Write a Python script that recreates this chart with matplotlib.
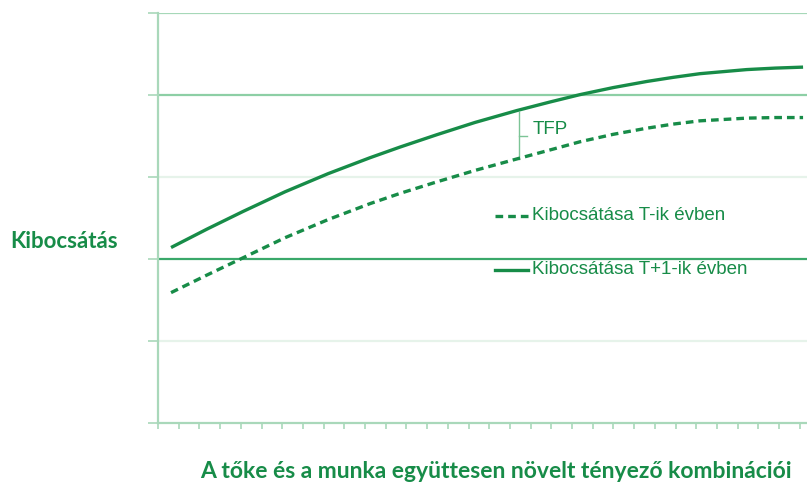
import numpy as np
import matplotlib.pyplot as plt

# ----------------------------------------------------------------------
# Adatok (leolvasva az ábráról)
# ----------------------------------------------------------------------
x_pont = [0.63, 2.37, 4.11, 6.14, 8.21, 10.24, 11.69, 13.46, 15.31, 17.33,
          18.94, 20.39, 21.98, 23.61, 24.88, 26.18, 28.44, 29.81, 31.16]
kibocsatas_T1 = [2.14, 2.365, 2.58, 2.82, 3.04, 3.235, 3.365, 3.515, 3.665, 3.81,
                 3.915, 4.005, 4.09, 4.165, 4.215, 4.26, 4.31, 4.328, 4.34]
kibocsatas_T = [1.59, 1.805, 2.015, 2.26, 2.48, 2.675, 2.80, 2.94, 3.08, 3.22,
                3.33, 3.43, 3.52, 3.595, 3.645, 3.685, 3.718, 3.725, 3.725]

n_kategoria = 31
y_racs = [1, 2, 3, 4, 5]
racs_szin = ['#e6f3ea', '#3aa86a', '#e6f3ea', '#8dcfa5', '#a6d8b8']

zold = '#178c48'
tengely_szin = '#a9d8ba'

fig = plt.figure(figsize=(8.07, 4.88), dpi=100)
ax = fig.add_axes([158 / 807, 1 - 423 / 488, (807 - 158) / 807, (423 - 13) / 488])

# Rácsvonalak
for y, szin in zip(y_racs, racs_szin):
    ax.axhline(y, color=szin, lw=1.6, zorder=1)

# Görbék
ax.plot(x_pont, kibocsatas_T1, color=zold, lw=2.4, zorder=3,
        solid_capstyle='butt', solid_joinstyle='round')
ax.plot(x_pont, kibocsatas_T, color=zold, lw=2.4, ls=(0, (2.3, 1.5)),
        zorder=3)

ax.set_xlim(0, 31.35)
ax.set_ylim(0, 5)
ax.set_xticks(np.arange(0, n_kategoria + 1))
ax.set_yticks(np.arange(0, 6))
ax.set_xticklabels([])
ax.set_yticklabels([])
ax.tick_params(axis='x', length=4, width=1.2, color=tengely_szin, direction='out')
ax.tick_params(axis='y', length=7, width=1.2, color=tengely_szin, direction='out')
for s in ['top', 'right']:
    ax.spines[s].set_visible(False)
for s in ['left', 'bottom']:
    ax.spines[s].set_color(tengely_szin)
    ax.spines[s].set_linewidth(1.6)

# TFP jelölés
x_tfp = (519 - 158) / 20.7
y_felso = (423 - 112) / 82
y_also = (423 - 159) / 82
y_kozep = (y_felso + y_also) / 2
ax.plot([x_tfp, x_tfp], [y_also, y_felso], color='#7cc496', lw=1.0, zorder=2)
ax.plot([x_tfp, x_tfp + 0.4], [y_kozep, y_kozep], color='#7cc496', lw=1.0, zorder=2)

szoveg_font = ['Liberation Sans', 'DejaVu Sans']
ax.text(x_tfp + 0.65, (423 - 130) / 82, 'TFP', color=zold, fontsize=13.5,
        family=szoveg_font, va='center', ha='left')

# Jelmagyarázat (kézzel elhelyezve, mint az eredetin)
lx0, lx1 = (495 - 158) / 20.7, (528 - 158) / 20.7
ly_T = (423 - 216) / 82
ly_T1 = (423 - 270) / 82
ax.plot([lx0, lx1], [ly_T, ly_T], color=zold, lw=2.4, ls=(0, (2.3, 1.5)))
ax.plot([lx0, lx1], [ly_T1, ly_T1], color=zold, lw=2.4)
ax.text(lx1 + 0.2, ly_T, 'Kibocsátása T-ik évben', color=zold, fontsize=13.5,
        family=szoveg_font, va='center', ha='left')
ax.text(lx1 + 0.2, ly_T1, 'Kibocsátása T+1-ik évben', color=zold, fontsize=13.5,
        family=szoveg_font, va='center', ha='left')

# Tengelyfeliratok
cim_font = ['Lato', 'DejaVu Sans']
fig.text(10 / 807, 1 - 241 / 488, 'Kibocsátás', color=zold, fontsize=16,
         fontweight='bold', family=cim_font, va='center', ha='left')
fig.text(496 / 807, 1 - 472 / 488,
         'A tőke és a munka együttesen növelt tényező kombinációi',
         color=zold, fontsize=16.5, fontweight='bold', family=cim_font,
         va='center', ha='center')

fig.savefig('out.png', dpi=100)
